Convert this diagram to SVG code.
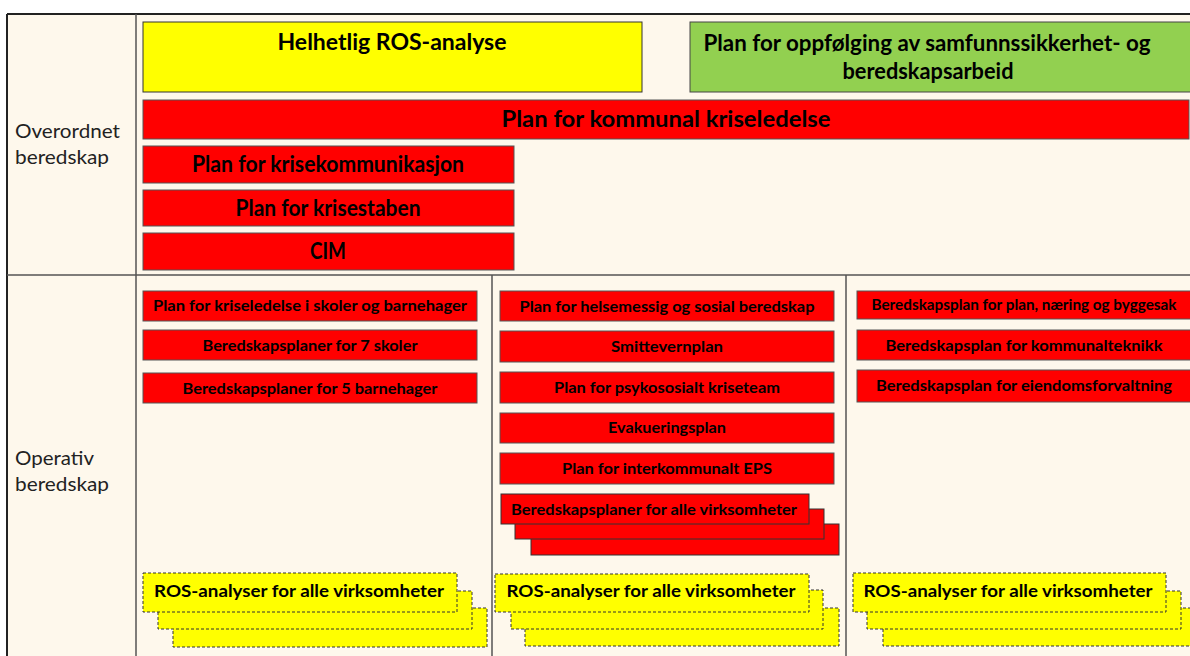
<svg xmlns="http://www.w3.org/2000/svg" width="1190" height="656" viewBox="0 0 1190 656">
<defs>
<style>
.bg{fill:#FEF8EC}
.frame{stroke:#222;stroke-width:2;fill:none}
.div{stroke:#555;stroke-width:1.5;fill:none}
.red{fill:#FF0000;stroke:#555;stroke-width:1}
.redk{fill:#FF0000;stroke:#333;stroke-width:1}
.yel{fill:#FFFF00;stroke:#333;stroke-width:1}
.grn{fill:#92D050;stroke:#444;stroke-width:1}
.ros{fill:#FFFF00;stroke:#333;stroke-width:1;stroke-dasharray:3 2}
.t{font-family:Lato,"Liberation Sans",sans-serif;font-weight:bold;fill:#000;text-anchor:middle}
.h{font-size:22px}
.m{font-size:15px}
.r{font-size:17px}
.lbl{font-family:Lato,"Liberation Sans",sans-serif;font-size:19px;fill:#222}
</style>
</defs>
<rect x="0" y="0" width="1190" height="656" fill="#FFFFFF"/>
<rect class="bg" x="7" y="14" width="1190" height="650"/>
<g id="frame">
<line class="frame" x1="7" y1="14" x2="1190" y2="14"/>
<line class="frame" x1="7" y1="14" x2="7" y2="656"/>
<line class="div" x1="136" y1="14" x2="136" y2="656"/>
<line class="div" x1="7" y1="275" x2="1190" y2="275"/>
<line class="div" x1="492" y1="275" x2="492" y2="656"/>
<line class="div" x1="846" y1="275" x2="846" y2="656"/>
</g>
<g id="label-overordnet">
<text class="lbl" x="15" y="138" textLength="105" lengthAdjust="spacingAndGlyphs">Overordnet</text>
<text class="lbl" x="15" y="164" textLength="94" lengthAdjust="spacingAndGlyphs">beredskap</text>
</g>
<g id="label-operativ">
<text class="lbl" x="15" y="465" textLength="79" lengthAdjust="spacingAndGlyphs">Operativ</text>
<text class="lbl" x="15" y="491" textLength="94" lengthAdjust="spacingAndGlyphs">beredskap</text>
</g>
<g id="connectors"></g>
<g id="helhetlig-ros">
<rect class="yel" x="143" y="22" width="499" height="70"/>
<text class="t h" x="392" y="50" textLength="229" lengthAdjust="spacingAndGlyphs">Helhetlig ROS-analyse</text>
</g>
<g id="plan-oppfolging">
<rect class="grn" x="690" y="22" width="510" height="70"/>
<text class="t h" x="927" y="51" textLength="447" lengthAdjust="spacingAndGlyphs">Plan for oppfølging av samfunnssikkerhet- og</text>
<text class="t h" x="928" y="79" textLength="171" lengthAdjust="spacingAndGlyphs">beredskapsarbeid</text>
</g>
<g id="plan-kommunal-kriseledelse">
<rect class="red" x="143" y="100" width="1046" height="39"/>
<text class="t h" x="666" y="127" textLength="329" lengthAdjust="spacingAndGlyphs">Plan for kommunal kriseledelse</text>
</g>
<g id="plan-krisekommunikasjon">
<rect class="red" x="143" y="146" width="371" height="37"/>
<text class="t h" x="328" y="172" textLength="272" lengthAdjust="spacingAndGlyphs">Plan for krisekommunikasjon</text>
</g>
<g id="plan-krisestaben">
<rect class="red" x="143" y="190" width="371" height="36"/>
<text class="t h" x="328" y="216" textLength="185" lengthAdjust="spacingAndGlyphs">Plan for krisestaben</text>
</g>
<g id="cim">
<rect class="red" x="143" y="233" width="371" height="37"/>
<text class="t h" x="328" y="259" textLength="36" lengthAdjust="spacingAndGlyphs">CIM</text>
</g>
<g id="plan-skoler-barnehager">
<rect class="red" x="143" y="291" width="334" height="30"/>
<text class="t m" x="310" y="311" textLength="314" lengthAdjust="spacingAndGlyphs">Plan for kriseledelse i skoler og barnehager</text>
</g>
<g id="beredskap-7-skoler">
<rect class="red" x="143" y="330" width="334" height="30"/>
<text class="t m" x="310" y="351" textLength="215" lengthAdjust="spacingAndGlyphs">Beredskapsplaner for 7 skoler</text>
</g>
<g id="beredskap-5-barnehager">
<rect class="red" x="143" y="373" width="334" height="30"/>
<text class="t m" x="310" y="394" textLength="255" lengthAdjust="spacingAndGlyphs">Beredskapsplaner for 5 barnehager</text>
</g>
<g id="plan-helsemessig">
<rect class="red" x="500" y="291" width="334" height="30"/>
<text class="t m" x="667" y="312" textLength="295" lengthAdjust="spacingAndGlyphs">Plan for helsemessig og sosial beredskap</text>
</g>
<g id="smittevernplan">
<rect class="red" x="500" y="331" width="334" height="31"/>
<text class="t m" x="667" y="352" textLength="112" lengthAdjust="spacingAndGlyphs">Smittevernplan</text>
</g>
<g id="plan-psykososialt">
<rect class="red" x="500" y="372" width="334" height="31"/>
<text class="t m" x="667" y="393" textLength="226" lengthAdjust="spacingAndGlyphs">Plan for psykososialt kriseteam</text>
</g>
<g id="evakueringsplan">
<rect class="red" x="500" y="413" width="334" height="30"/>
<text class="t m" x="667" y="433" textLength="118" lengthAdjust="spacingAndGlyphs">Evakueringsplan</text>
</g>
<g id="plan-interkommunalt-eps">
<rect class="red" x="500" y="453" width="334" height="31"/>
<text class="t m" x="667" y="474" textLength="210" lengthAdjust="spacingAndGlyphs">Plan for interkommunalt EPS</text>
</g>
<g id="beredskapsplaner-alle">
<rect class="redk" x="531" y="524" width="308" height="31"/>
<rect class="redk" x="515" y="509" width="309" height="30"/>
<rect class="redk" x="501" y="494" width="308" height="30"/>
<text class="t m" x="654" y="515" textLength="286" lengthAdjust="spacingAndGlyphs">Beredskapsplaner for alle virksomheter</text>
</g>
<g id="beredskap-plan-naering">
<rect class="red" x="857" y="291" width="334" height="28"/>
<text class="t m" x="1024" y="310" textLength="305" lengthAdjust="spacingAndGlyphs">Beredskapsplan for plan, næring og byggesak</text>
</g>
<g id="beredskap-kommunalteknikk">
<rect class="red" x="857" y="330" width="334" height="30"/>
<text class="t m" x="1024" y="351" textLength="277" lengthAdjust="spacingAndGlyphs">Beredskapsplan for kommunalteknikk</text>
</g>
<g id="beredskap-eiendom">
<rect class="red" x="857" y="370" width="334" height="32"/>
<text class="t m" x="1024" y="391" textLength="296" lengthAdjust="spacingAndGlyphs">Beredskapsplan for eiendomsforvaltning</text>
</g>
<g id="ros-col1">
<rect class="ros" x="173" y="608" width="314" height="39"/>
<rect class="ros" x="158" y="591" width="314" height="38"/>
<rect class="ros" x="143" y="573" width="314" height="39"/>
<text class="t r" x="299" y="597" textLength="290" lengthAdjust="spacingAndGlyphs">ROS-analyser for alle virksomheter</text>
</g>
<g id="ros-col2">
<rect class="ros" x="525" y="608" width="314" height="38"/>
<rect class="ros" x="511" y="590" width="312" height="39"/>
<rect class="ros" x="495" y="574" width="314" height="38"/>
<text class="t r" x="651" y="597" textLength="289" lengthAdjust="spacingAndGlyphs">ROS-analyser for alle virksomheter</text>
</g>
<g id="ros-col3">
<rect class="ros" x="883" y="608" width="314" height="38"/>
<rect class="ros" x="867" y="591" width="314" height="38"/>
<rect class="ros" x="853" y="573" width="313" height="39"/>
<text class="t r" x="1008" y="597" textLength="289" lengthAdjust="spacingAndGlyphs">ROS-analyser for alle virksomheter</text>
</g>
</svg>
